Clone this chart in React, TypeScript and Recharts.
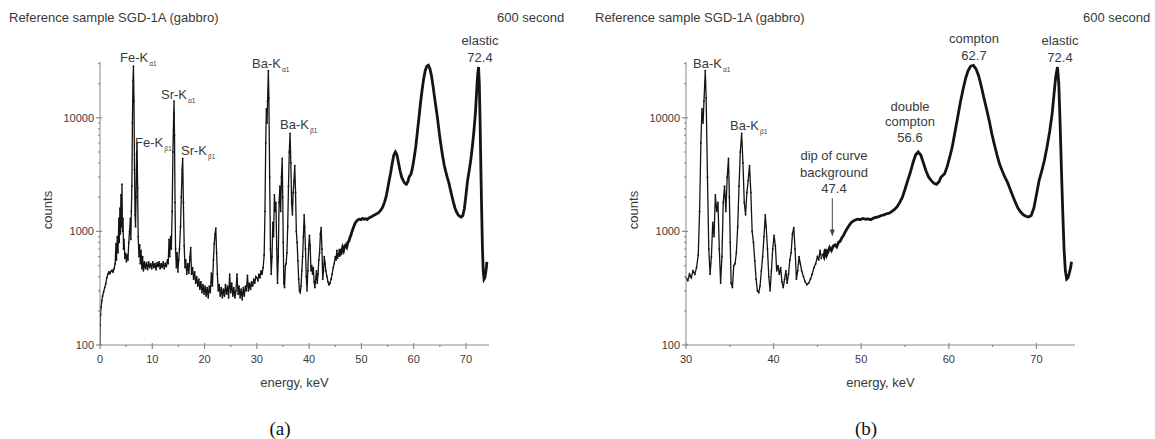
import React from 'react'
import { LineChart, Line, XAxis, YAxis, ReferenceLine } from 'recharts'

type Pt = [number, number]

const lowEnergySpectrum: Pt[] = [
  [0.0, 100], [0.05, 150], [0.1, 185], [0.2, 215], [0.35, 245], [0.5, 270], [0.7, 295], [0.9, 320],
  [1.1, 345], [1.3, 390], [1.5, 420], [1.7, 440], [1.9, 425], [2.1, 445], [2.3, 455], [2.5, 440],
  [2.7, 470], [2.9, 520], [3.05, 780], [3.15, 560], [3.3, 900], [3.45, 650], [3.6, 1300], [3.7, 800],
  [3.8, 1600], [3.9, 950], [4.0, 2100], [4.1, 1100], [4.2, 2600], [4.3, 1000], [4.4, 1300], [4.5, 700],
  [4.6, 850], [4.75, 580], [4.9, 640], [5.05, 540], [5.2, 620], [5.35, 560], [5.5, 800], [5.65, 1000],
  [5.8, 1300], [5.9, 850], [6.0, 1500], [6.1, 2500], [6.2, 9000], [6.3, 21000], [6.4, 28500], [6.5, 14000],
  [6.6, 3500], [6.7, 1400], [6.8, 1100], [6.9, 2000], [7.0, 4800], [7.08, 6000], [7.2, 2400], [7.3, 900],
  [7.45, 600], [7.6, 760], [7.7, 520], [7.85, 680], [8.0, 470], [8.15, 600], [8.3, 450], [8.5, 540],
  [8.7, 470], [8.9, 530], [9.1, 460], [9.3, 540], [9.5, 480], [9.7, 520], [9.9, 470], [10.1, 540],
  [10.3, 480], [10.5, 520], [10.7, 460], [10.9, 530], [11.1, 490], [11.3, 540], [11.5, 470], [11.7, 520],
  [11.9, 480], [12.1, 540], [12.3, 470], [12.5, 520], [12.7, 490], [12.9, 560], [13.05, 520], [13.2, 850],
  [13.35, 600], [13.5, 900], [13.65, 700], [13.8, 1500], [13.95, 5000], [14.1, 11000], [14.17, 14000], [14.25, 7000],
  [14.35, 1800], [14.45, 700], [14.6, 480], [14.75, 650], [14.9, 440], [15.05, 560], [15.2, 700], [15.4, 1100],
  [15.55, 2000], [15.7, 3500], [15.82, 4400], [15.95, 1800], [16.1, 750], [16.25, 480], [16.4, 560], [16.6, 420],
  [16.8, 520], [17.0, 430], [17.2, 600], [17.35, 720], [17.5, 420], [17.7, 480], [17.9, 380], [18.1, 440],
  [18.3, 350], [18.5, 400], [18.7, 330], [18.9, 380], [19.1, 310], [19.3, 360], [19.5, 290], [19.7, 340],
  [19.9, 280], [20.1, 330], [20.3, 270], [20.5, 320], [20.7, 260], [20.9, 330], [21.1, 290], [21.3, 430],
  [21.5, 330], [21.7, 560], [21.85, 780], [22.0, 950], [22.15, 1070], [22.3, 650], [22.45, 420], [22.6, 300],
  [22.8, 340], [23.0, 270], [23.2, 320], [23.4, 260], [23.6, 310], [23.8, 270], [24.0, 340], [24.2, 280],
  [24.4, 330], [24.6, 260], [24.8, 420], [25.0, 290], [25.2, 350], [25.4, 270], [25.6, 320], [25.8, 260],
  [26.0, 300], [26.2, 420], [26.4, 280], [26.6, 330], [26.8, 260], [27.0, 310], [27.2, 250], [27.4, 320],
  [27.6, 270], [27.8, 330], [28.0, 300], [28.2, 410], [28.4, 300], [28.6, 350], [28.8, 310], [29.0, 360],
  [29.2, 330], [29.4, 380], [29.6, 350], [29.8, 400], [30.0, 390],
]

const bariumSpectrum: Pt[] = [
  [30.2, 370], [30.4, 420], [30.6, 390], [30.8, 450], [31.0, 420], [31.2, 480], [31.4, 620], [31.55, 1500],
  [31.7, 6000], [31.82, 12000], [31.95, 9000], [32.05, 14000], [32.2, 26000], [32.3, 15000], [32.45, 3000], [32.6, 700],
  [32.75, 420], [32.9, 600], [33.05, 1200], [33.2, 900], [33.35, 2100], [33.5, 1500], [33.65, 1800], [33.8, 700],
  [33.95, 350], [34.1, 600], [34.25, 1800], [34.4, 2500], [34.55, 1500], [34.7, 3000], [34.85, 4400], [34.95, 2000],
  [35.05, 800], [35.15, 350], [35.3, 320], [35.45, 500], [35.6, 520], [35.75, 650], [35.9, 1100], [36.05, 2500],
  [36.2, 5000], [36.35, 7300], [36.5, 4000], [36.65, 1800], [36.8, 1400], [36.95, 2200], [37.1, 2800], [37.25, 3800],
  [37.4, 2200], [37.55, 1000], [37.7, 800], [37.85, 550], [38.0, 380], [38.15, 300], [38.3, 290], [38.45, 330],
  [38.6, 450], [38.75, 600], [38.9, 900], [39.05, 1400], [39.15, 1100], [39.3, 700], [39.45, 400], [39.6, 300],
  [39.75, 450], [39.9, 700], [40.05, 920], [40.2, 750], [40.35, 450], [40.5, 500], [40.65, 420], [40.8, 480],
  [40.95, 360], [41.1, 320], [41.25, 380], [41.4, 450], [41.55, 350], [41.7, 420], [41.85, 560], [42.0, 650],
  [42.15, 950], [42.3, 1080], [42.45, 700], [42.6, 380], [42.75, 450], [42.9, 600], [43.05, 520], [43.2, 450],
  [43.4, 400], [43.6, 360], [43.8, 340], [44.0, 350], [44.2, 380], [44.4, 420], [44.6, 480], [44.8, 520],
  [45.0, 600], [45.15, 560], [45.3, 680], [45.45, 580],
]

const comptonSpectrum: Pt[] = [
  [45.6, 640], [45.75, 600], [45.9, 700], [46.05, 620], [46.2, 660], [46.4, 720], [46.6, 680], [46.8, 740],
  [47.0, 760], [47.2, 730], [47.4, 800], [47.6, 820], [47.8, 880], [48.0, 930], [48.2, 1000], [48.4, 1060],
  [48.6, 1120], [48.8, 1180], [49.0, 1220], [49.3, 1260], [49.6, 1280], [49.9, 1270], [50.2, 1300], [50.5, 1280],
  [50.8, 1290], [51.1, 1270], [51.4, 1310], [51.7, 1330], [52.0, 1350], [52.3, 1380], [52.6, 1400], [52.9, 1430],
  [53.2, 1450], [53.5, 1500], [53.8, 1560], [54.1, 1650], [54.4, 1800], [54.7, 2000], [55.0, 2350], [55.3, 2800],
  [55.6, 3300], [55.9, 4000], [56.2, 4700], [56.5, 5000], [56.8, 4700], [57.1, 4000], [57.4, 3400], [57.7, 3000],
  [58.0, 2800], [58.3, 2650], [58.6, 2600], [58.9, 2750], [59.1, 3000], [59.3, 3100], [59.5, 3200], [59.8, 3700],
  [60.1, 4500], [60.4, 5600], [60.7, 7500], [61.0, 10000], [61.3, 13500], [61.6, 17500], [61.9, 22000], [62.2, 26000],
  [62.5, 28500], [62.8, 29000], [63.1, 27000], [63.4, 23500], [63.7, 19000], [64.0, 15000], [64.3, 12000], [64.6, 9500],
  [64.9, 7300], [65.2, 5800], [65.5, 4700], [65.8, 3900], [66.1, 3400], [66.4, 3000], [66.7, 2700], [67.0, 2350],
  [67.3, 2050], [67.6, 1800], [67.9, 1600], [68.2, 1480], [68.5, 1400], [68.8, 1360], [69.1, 1340], [69.4, 1380],
  [69.7, 1600], [70.0, 2100], [70.3, 2800], [70.6, 3400], [70.9, 4200], [71.2, 5500], [71.5, 7500], [71.8, 11000],
  [72.0, 16000], [72.2, 23000], [72.4, 28000], [72.55, 20000], [72.7, 9000], [72.85, 3500], [73.0, 1500], [73.15, 700],
  [73.3, 450], [73.45, 380], [73.6, 390], [73.75, 430], [73.9, 480], [74.0, 540],
]

const xTicksA = [0, 5, 10, 15, 20, 25, 30, 35, 40, 45, 50, 55, 60, 65, 70]
const xTicksB = [30, 35, 40, 45, 50, 55, 60, 65, 70]
const yTicks = [100, 200, 300, 400, 500, 600, 700, 800, 900, 1000, 2000, 3000, 4000, 5000, 6000, 7000, 8000, 9000, 10000, 20000, 30000]
const yLabelled = [100, 1000, 10000]

const AXIS = '#8a8a8a'
const TEXT = '#3a3a3a'
const INK = '#141414'
const FONT = '"Liberation Sans", Arial, sans-serif'

const toRows = (pts: Pt[], from = 0) => pts.filter(p => p[0] >= from).map(([e, c]) => ({ e, c }))

function XTick({ x, y, payload }: any) {
  const major = payload.value % 10 === 0
  return (
    <g>
      <line x1={x} x2={x} y1={y - (major ? 2 : 0)} y2={y + (major ? 4 : 2)} stroke={AXIS} strokeWidth={1.2} />
      {major && (
        <text x={x} y={y + 18} textAnchor="middle" fontSize={11} fontFamily={FONT} fill={TEXT}>{payload.value}</text>
      )}
    </g>
  )
}

function YTick({ x, y, payload }: any) {
  const major = yLabelled.includes(payload.value)
  return (
    <g>
      <line x1={x - (major ? 4 : 2)} x2={x + (major ? 2 : 0)} y1={y} y2={y} stroke={AXIS} strokeWidth={1.2} />
      {major && (
        <text x={x - 6} y={y + 4} textAnchor="end" fontSize={11} fontFamily={FONT} fill={TEXT}>{payload.value}</text>
      )}
    </g>
  )
}

function Arrow(p: any) {
  if (p.x1 == null) return null
  return (
    <g>
      <line x1={p.x1} y1={p.y1} x2={p.x2} y2={p.y2 - 4} stroke="#444" strokeWidth={1} />
      <polygon points={`${p.x2 - 2.5},${p.y2 - 7} ${p.x2 + 2.5},${p.y2 - 7} ${p.x2},${p.y2}`} fill="#444" />
    </g>
  )
}

function Spectrum({ from, ticks, arrow }: { from: number; ticks: number[]; arrow?: boolean }) {
  const peaks = [...toRows(lowEnergySpectrum, from), ...toRows(bariumSpectrum, from)]
  const broad = toRows(comptonSpectrum, from)
  return (
    <LineChart width={577} height={439} margin={{ top: 62, right: 88, bottom: 64, left: 40 }}>
      <XAxis
        type="number" dataKey="e" domain={[from, 74.4]} ticks={ticks} interval={0}
        allowDataOverflow stroke={AXIS} tickLine={false} tickSize={0} tickMargin={0} tick={<XTick />}
      />
      <YAxis
        type="number" dataKey="c" scale="log" domain={[100, 31000]} ticks={yTicks} interval={0}
        allowDataOverflow stroke={AXIS} tickLine={false} tickSize={0} tickMargin={0} tick={<YTick />} width={60}
      />
      {arrow && (
        <ReferenceLine segment={[{ x: 46.7, y: 1960 }, { x: 46.7, y: 900 }]} shape={<Arrow />} ifOverflow="visible" />
      )}
      <Line data={peaks} dataKey="c" type="linear" stroke={INK} strokeWidth={1.3}
        dot={{ r: 0.9, fill: INK, stroke: 'none' }} isAnimationActive={false} />
      <Line data={broad} dataKey="c" type="linear" stroke={INK} strokeWidth={2.8}
        dot={false} isAnimationActive={false} />
    </LineChart>
  )
}

const abs = (left: number, top: number, extra: React.CSSProperties = {}): React.CSSProperties => ({
  position: 'absolute', left, top, whiteSpace: 'nowrap', lineHeight: 1, ...extra,
})

function Note({ x, y, text, sub, center }: { x: number; y: number; text: string; sub?: string; center?: boolean }) {
  return (
    <div style={abs(x, y, { transform: center ? 'translate(-50%, -50%)' : 'translate(0, -50%)', fontSize: 13, color: TEXT, textAlign: 'center' })}>
      {text}
      {sub && <span style={{ fontSize: 6.5, position: 'relative', top: 4, marginLeft: 1 }}>{sub}</span>}
    </div>
  )
}

function Panel({ left, tag, from, ticks, arrow, children }: any) {
  return (
    <div style={abs(left, 0, { width: 577, height: 439 })}>
      <Spectrum from={from} ticks={ticks} arrow={arrow} />
      <div style={abs(9, 11, { fontSize: 13, color: TEXT })}>Reference sample SGD-1A (gabbro)</div>
      <div style={abs(497, 11, { fontSize: 13, color: TEXT })}>600 second</div>
      <svg style={abs(36, 180, { overflow: 'visible' })} width={24} height={60}>
        <text x={0} y={0} transform="translate(16,30) rotate(-90)" textAnchor="middle" fontSize={13} fontFamily={FONT} fill={TEXT}>counts</text>
      </svg>
      <div style={abs(294.5, 382, { fontSize: 13, color: TEXT, transform: 'translate(-50%, -50%)' })}>energy, keV</div>
      <div style={abs(280, 428, { fontSize: 19, color: '#111', fontFamily: '"Liberation Serif", "Times New Roman", serif', transform: 'translate(-50%, -50%)' })}>{tag}</div>
      {children}
    </div>
  )
}

export default function App() {
  return (
    <div style={{ position: 'absolute', left: 0, top: 0, width: 1155, height: 439, background: '#fff', fontFamily: FONT }}>
      <Panel left={0} tag="(a)" from={0} ticks={xTicksA}>
        <Note x={120} y={57} text="Fe-K" sub="α1" />
        <Note x={161} y={94} text="Sr-K" sub="α1" />
        <Note x={135} y={142} text="Fe-K" sub="β1" />
        <Note x={181} y={150} text="Sr-K" sub="β1" />
        <Note x={252} y={63} text="Ba-K" sub="α1" />
        <Note x={280} y={124} text="Ba-K" sub="β1" />
        <Note x={480} y={40} text="elastic" center />
        <Note x={480} y={57} text="72.4" center />
      </Panel>
      <Panel left={586} tag="(b)" from={30} ticks={xTicksB} arrow>
        <Note x={107} y={63} text="Ba-K" sub="α1" />
        <Note x={144} y={125} text="Ba-K" sub="β1" />
        <Note x={388} y={38} text="compton" center />
        <Note x={388} y={55} text="62.7" center />
        <Note x={474} y={40} text="elastic" center />
        <Note x={474} y={57} text="72.4" center />
        <Note x={324} y={106} text="double" center />
        <Note x={324} y={121} text="compton" center />
        <Note x={324} y={137} text="56.6" center />
        <Note x={248} y={155} text="dip of curve" center />
        <Note x={248} y={172} text="background" center />
        <Note x={248} y={188} text="47.4" center />
      </Panel>
    </div>
  )
}
